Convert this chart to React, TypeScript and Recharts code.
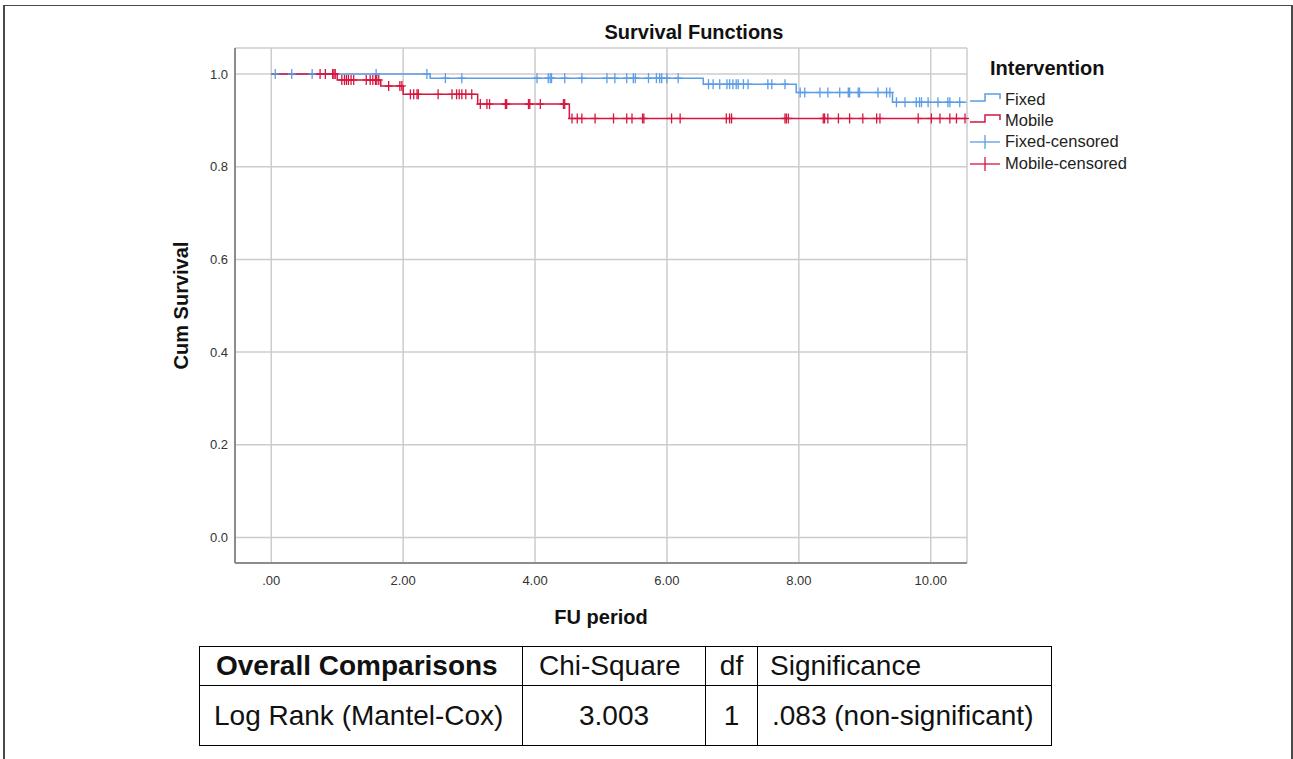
import { ComposedChart, Line, Scatter, XAxis, YAxis, CartesianGrid } from "recharts";

// Kaplan-Meier steps (time, cumulative survival)
const fixedSteps = [
  { t: 0, s: 1 },
  { t: 2.41, s: 0.991 },
  { t: 6.55, s: 0.978 },
  { t: 7.96, s: 0.96 },
  { t: 9.42, s: 0.939 },
  { t: 10.54, s: 0.939 },
];

const mobileSteps = [
  { t: 0, s: 1 },
  { t: 1.0, s: 0.987 },
  { t: 1.66, s: 0.974 },
  { t: 2.0, s: 0.956 },
  { t: 3.13, s: 0.935 },
  { t: 4.52, s: 0.904 },
  { t: 10.54, s: 0.904 },
];

// censored follow-up times
const fixedCensorTimes = [
  0.06, 0.31, 0.62, 1.59, 2.36, 2.64, 2.89, 4.03, 4.2, 4.23, 4.25, 4.45, 4.71,
  5.09, 5.21, 5.39, 5.49, 5.52, 5.72, 5.84, 5.89, 5.92, 6.0, 6.17, 6.63, 6.7,
  6.8, 6.91, 6.95, 7.0, 7.05, 7.08, 7.16, 7.23, 7.53, 7.59, 7.79, 8.02, 8.09,
  8.32, 8.44, 8.62, 8.75, 8.77, 8.9, 8.92, 9.2, 9.33, 9.38, 9.48, 9.61, 9.78,
  9.83, 9.86, 9.96, 10.11, 10.26, 10.29, 10.44,
];

const mobileCensorTimes = [
  0.74, 0.82, 0.93, 0.95, 0.97, 1.07, 1.11, 1.14, 1.17, 1.21, 1.25, 1.44, 1.5,
  1.54, 1.58, 1.6, 1.63, 1.78, 1.95, 1.98, 2.11, 2.16, 2.21, 2.23, 2.53, 2.74,
  2.81, 2.85, 2.89, 2.95, 3.04, 3.17, 3.27, 3.31, 3.55, 3.57, 3.9, 3.92, 4.08,
  4.43, 4.45, 4.56, 4.64, 4.71, 4.91, 5.19, 5.39, 5.47, 5.63, 5.65, 6.07, 6.2,
  6.9, 6.95, 6.98, 7.79, 7.81, 7.84, 8.37, 8.39, 8.44, 8.6, 8.77, 8.97, 9.18,
  9.23, 9.81, 10.01, 10.14, 10.29, 10.39, 10.52,
];

const xTicks = [0, 2, 4, 6, 8, 10];
const yTicks = [0, 0.2, 0.4, 0.6, 0.8, 1.0];
const legendLabels = ["Fixed", "Mobile", "Fixed-censored", "Mobile-censored"];
const tableHeader = ["Overall Comparisons", "Chi-Square", "df", "Significance"];
const tableRow = ["Log Rank (Mantel-Cox)", "3.003", "1", ".083 (non-significant)"];

const BLUE = "#5b9de6";
const RED = "#d5173f";
const FONT = "'Liberation Sans', Arial, sans-serif";

type Step = { t: number; s: number };

// survival level of the KM curve at a censoring time
const levelAt = (steps: Step[], t: number) => {
  let s = steps[0].s;
  for (const p of steps) if (p.t <= t) s = p.s;
  return s;
};

const fixedCensored = fixedCensorTimes.map((t) => ({ t, s: levelAt(fixedSteps, t) }));
const mobileCensored = mobileCensorTimes.map((t) => ({ t, s: levelAt(mobileSteps, t) }));

const censorShape = (color: string) => (props: any) => {
  const { cx, cy } = props;
  return (
    <g stroke={color} strokeWidth={1.3}>
      <line x1={cx} x2={cx} y1={cy - 5} y2={cy + 5} />
      <line x1={cx - 4} x2={cx + 4} y1={cy} y2={cy} />
    </g>
  );
};

const LegendBox = () => {
  const colors = [BLUE, RED, BLUE, RED];
  return (
    <svg width={200} height={130} style={{ position: "absolute", left: 965, top: 52 }}>
      <text x={25} y={23} fontFamily={FONT} fontWeight="bold" fontSize={20} fill="#111">
        Intervention
      </text>
      {legendLabels.map((label, i) => {
        const y = [48, 69, 90, 112][i];
        const c = colors[i];
        return (
          <g key={label}>
            {i < 2 ? (
              <polyline
                points={`5,${y + 1} 20,${y + 1} 20,${y - 6} 35,${y - 6} 35,${y - 1}`}
                fill="none"
                stroke={c}
                strokeWidth={1.5}
              />
            ) : (
              <g stroke={c} strokeWidth={1.3}>
                <line x1={5} x2={35} y1={y} y2={y} />
                <line x1={20} x2={20} y1={y - 7} y2={y + 7} />
              </g>
            )}
            <text x={40} y={y + 5} fontFamily={FONT} fontSize={16.5} fill="#222">
              {label}
            </text>
          </g>
        );
      })}
    </svg>
  );
};

const cell = (extra: any = {}) => ({
  border: "1px solid #000",
  padding: "0 14px",
  fontFamily: FONT,
  fontSize: 28,
  color: "#111",
  whiteSpace: "nowrap",
  ...extra,
});

export default function App() {
  return (
    <div
      style={{
        position: "absolute",
        left: 0,
        top: 0,
        width: 1293,
        height: 759,
        overflow: "hidden",
        background: "#fff",
      }}
    >
      <div
        style={{
          position: "absolute",
          left: 3,
          top: 5,
          width: 1286,
          height: 760,
          borderTop: "1.5px solid #4a4a4a",
          borderLeft: "2px solid #4a4a4a",
          borderRight: "2px solid #4a4a4a",
        }}
      />
      <div
        style={{
          position: "absolute",
          left: 494,
          width: 400,
          top: 21,
          lineHeight: "22px",
          textAlign: "center",
          fontFamily: FONT,
          fontWeight: "bold",
          fontSize: 20,
          color: "#111",
        }}
      >
        Survival Functions
      </div>
      <div style={{ position: "absolute", left: 0, top: 0 }}>
        <ComposedChart
          width={1293}
          height={640}
          margin={{ top: 48, right: 326, left: 175, bottom: 10 }}
        >
          <CartesianGrid stroke="#cccccc" strokeWidth={1.5} />
          <XAxis
            type="number"
            dataKey="t"
            domain={[-0.55, 10.55]}
            ticks={xTicks}
            tickFormatter={(v: number) => (v === 0 ? ".00" : v.toFixed(2))}
            axisLine={{ stroke: "#8c8c8c", strokeWidth: 2 }}
            tickLine={false}
            tickMargin={7}
            tick={{ fontSize: 13, fill: "#333", fontFamily: FONT }}
            height={67}
            label={{
              value: "FU period",
              position: "insideBottom",
              offset: 6,
              style: { fontSize: 20, fontWeight: "bold", fill: "#111", fontFamily: FONT },
            }}
          />
          <YAxis
            type="number"
            domain={[-0.055, 1.056]}
            ticks={yTicks}
            tickFormatter={(v: number) => v.toFixed(1)}
            axisLine={{ stroke: "#8c8c8c", strokeWidth: 2 }}
            tickLine={false}
            tickMargin={1}
            tick={{ fontSize: 13, fill: "#333", fontFamily: FONT }}
            width={60}
            label={{
              value: "Cum Survival",
              angle: -90,
              position: "insideLeft",
              offset: 6,
              style: {
                textAnchor: "middle",
                fontSize: 20,
                fontWeight: "bold",
                fill: "#111",
                fontFamily: FONT,
              },
            }}
          />
          <Line
            data={fixedSteps}
            dataKey="s"
            type="stepAfter"
            stroke={BLUE}
            strokeWidth={1.5}
            dot={false}
            isAnimationActive={false}
          />
          <Line
            data={mobileSteps}
            dataKey="s"
            type="stepAfter"
            stroke={RED}
            strokeWidth={1.5}
            dot={false}
            isAnimationActive={false}
          />
          <Scatter
            data={fixedCensored}
            dataKey="s"
            shape={censorShape(BLUE)}
            isAnimationActive={false}
          />
          <Scatter
            data={mobileCensored}
            dataKey="s"
            shape={censorShape(RED)}
            isAnimationActive={false}
          />
        </ComposedChart>
      </div>
      <LegendBox />
      <table
        style={{
          position: "absolute",
          left: 199,
          top: 646,
          borderCollapse: "collapse",
          tableLayout: "fixed",
          width: 852,
        }}
      >
        <colgroup>
          <col style={{ width: 323 }} />
          <col style={{ width: 183 }} />
          <col style={{ width: 52 }} />
          <col style={{ width: 294 }} />
        </colgroup>
        <tbody>
          <tr style={{ height: 39 }}>
            <td style={cell({ fontWeight: "bold", paddingLeft: 16 })}>{tableHeader[0]}</td>
            <td style={cell({ paddingLeft: 16 })}>{tableHeader[1]}</td>
            <td style={cell({ textAlign: "center", padding: 0 })}>{tableHeader[2]}</td>
            <td style={cell({ paddingLeft: 12 })}>{tableHeader[3]}</td>
          </tr>
          <tr style={{ height: 60 }}>
            <td style={cell({ paddingLeft: 14 })}>{tableRow[0]}</td>
            <td style={cell({ textAlign: "center" })}>{tableRow[1]}</td>
            <td style={cell({ textAlign: "center", padding: 0 })}>{tableRow[2]}</td>
            <td style={cell({ paddingLeft: 14 })}>{tableRow[3]}</td>
          </tr>
        </tbody>
      </table>
    </div>
  );
}
